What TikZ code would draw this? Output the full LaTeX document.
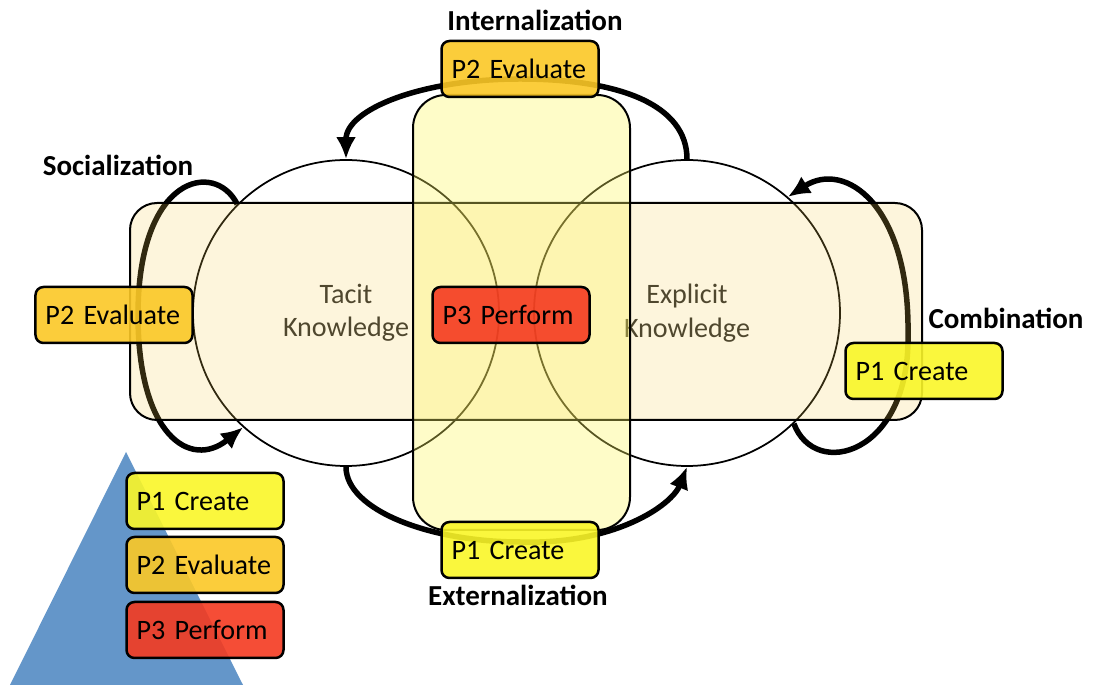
\documentclass[tikz,border=0pt]{standalone}
\usepackage{fontspec}
\setmainfont{Carlito}
\usetikzlibrary{arrows.meta}
\definecolor{P1}{RGB}{250,246,40}
\definecolor{P2}{RGB}{251,200,38}
\definecolor{P3}{RGB}{244,58,32}
\definecolor{band}{RGB}{245,205,80}
\definecolor{pillar}{RGB}{252,246,98}
\definecolor{base}{RGB}{100,150,201}
\newcommand{\drawcycle}{\draw[line width=1.1mm,-{Latex[length=4.4mm,width=4mm]}]}
\newcommand{\drawbox}{\draw[line width=0.4mm]}

\begin{document}
\begin{tikzpicture}[x=0.2mm,y=0.2mm,
  phase/.style={draw,line width=0.5mm,rounded corners=1.6mm,fill opacity=0.9,text opacity=1,
    minimum height=1.12cm,text width=2.74cm,inner xsep=0.2cm,align=left,font=\fontsize{16}{19}\selectfont},
  know/.style={draw,circle,line width=0.35mm,minimum size=6.12cm,inner sep=0pt,align=center,
    text=black!85,font=\fontsize{16}{19}\selectfont},
  lbl/.style={font=\fontsize{16.5}{20}\selectfont\bfseries}]
\useasboundingbox (0,0) rectangle (1098,685);
\fill[base] (10,0)--(126,233)--(243,0)--cycle;
\node[know] (tacit) at (346,372) {Tacit\\Knowledge};
\node[know] (explicit) at (687,372) {Explicit\\Knowledge};
% the four turns of the cycle
\coordinate (midT) at (520,606);
\coordinate (midB) at (520,143);
\coordinate (sLeft) at (138,370);
\coordinate (cRight) at (908,350);
\drawcycle (explicit.north) .. controls (687,580) and (620,606) .. (midT) .. controls (420,606) and (346,575) .. (tacit.north);
\drawcycle (tacit.south) .. controls (346,175) and (430,143) .. (midB) .. controls (615,140) and (672,180) .. (explicit.south);
\drawcycle (tacit.135) .. controls (215,525) and (138,510) .. (sLeft) .. controls (138,250) and (190,215) .. (tacit.228);
\drawcycle (explicit.-46) .. controls (815,205) and (910,230) .. (cRight) .. controls (910,480) and (845,525) .. (explicit.49);
\drawbox[fill=band,fill opacity=0.2,rounded corners=5.4mm] (130,265) rectangle (922,482);
\drawbox[fill=pillar,fill opacity=0.35,rounded corners=6.6mm] (413,155) rectangle (630,590);
\node[phase,fill=P2] (evalT) at (520,616) {P2 Evaluate};
\node[phase,fill=P3] (perf) at (511,370) {P3 Perform};
\node[phase,fill=P1] (createB) at (520,135) {P1 Create};
\node[phase,fill=P2] (evalL) at (114,370) {P2 Evaluate};
\node[phase,fill=P1] (createR) at (924,314) {P1 Create};
\foreach \col/\txt/\y/\nm in {P1/P1 Create/184/keyA, P2/P2 Evaluate/120/keyB, P3/P3 Perform/55/keyC}
  \node[phase,fill=\col] (\nm) at (205,\y) {\txt};
\node[lbl] (intern) at (535,665) {Internalization};
\node[lbl] (social) at (118,520) {Socialization};
\node[lbl] (combin) at (1006,367) {Combination};
\node[lbl] (extern) at (518,90) {Externalization};
\end{tikzpicture}
\end{document}
